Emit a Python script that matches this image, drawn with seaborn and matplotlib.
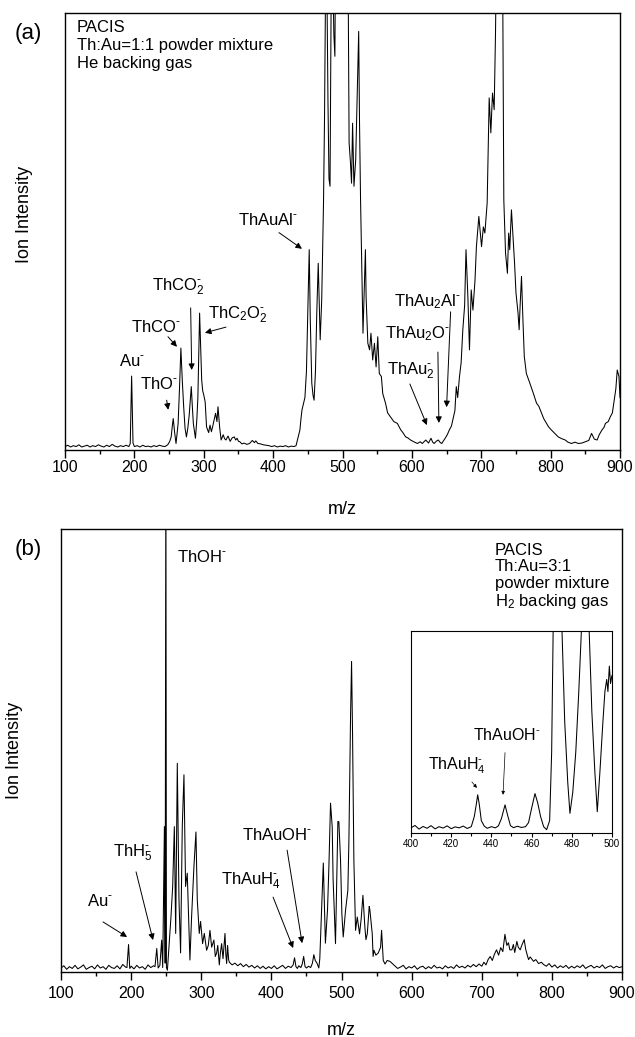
import pandas as pd
import numpy as np
import matplotlib as mpl
import matplotlib.pyplot as plt
import seaborn as sns

# ---------- panel (a): Th:Au=1:1, He backing gas (m/z, intensity in % of axis) ----------
a_low = [(100,0.8),(104,1.1),(108,0.7),(112,1.0),(116,0.8),(120,1.2),(124,0.7),(128,0.9),
         (132,1.1),(136,0.7),(140,1.0),(144,0.8),(148,1.2),(152,0.9),(156,0.7),(160,1.1),
         (164,0.8),(168,1.3),(172,0.9),(176,0.7),(180,1.0),(184,0.8),(188,1.1),(192,0.8),
         (194,1.5),(196,16.9),(198,1.6),(200,0.8),(204,1.0),(208,0.7),(212,1.1),(216,0.8),
         (220,0.9),(224,0.7),(228,1.0),(232,0.8),(236,1.1),(240,0.9),(244,0.8),(248,1.2),
         (251,2.0),(253,3.0),(255,6.0),(256,7.2),(258,4.0),(260,1.5),(263,6.0),(265,14),
         (267,23.3),(269,16),(271,10),(273,5),(275,3.0),(277,5),(279,8),(282,14.5),
         (283.5,10),(285,6),(288,2.7),(290,7),(291.5,12),(293,24),(294,31.3),(295.5,24),
         (297,16),(298.5,13.5),(300,12.6),(302,11),(304,5.3),(307,4),(309,5.7),(311,4.2),
         (313,5.5),(315,7),(317,8.4),(319,6.5),(320.5,9.9),(322,7),(323,5),(325,2.3),
         (328,3.5),(330,2.6),(332,2.3),(335,3.2),(338,2.0),(341,2.8),(344,3.0),(346,2.3),
         (348,2.7),(350,2.0),(352,1.9),(355,1.4),(358,1.6),(362,1.3),(366,1.5),(370,2.2),
         (373,1.7),(375,2.1),(378,1.5),(382,1.4),(386,1.2),(390,1.1),(394,1.0),(398,0.8),
         (402,1.0),(406,0.7),(410,0.9),(414,0.8),(418,1.0),(422,0.7),(426,0.9),(430,0.8)]
a_mid = [(433,1.0),(435,2.3),(437,3.5),(438.6,4.6),(440,7),(441.6,9.2),(443.5,10.5),
         (445.8,12),(448,18),(450,32),(452,45.8),(453.5,30),(455.7,15.3),(457.5,12.5),
         (459,11.4),(461,18),(463,32),(465,42.7),(467.8,25.2),(470,34.3),(472.6,56.5),
         (474,75),(475.5,105),(477,115),(479,80),(480.5,62),(482,60.3),(483,85),(484,115),
         (486,110),(487.5,95),(489,90),(490,115),(505,115),(508,110),(509.5,70.2),
         (511.5,65.6),(513,61),(514.5,74.7),(516.5,60.3),(519,66.4),(521,80),(523.3,95.7),
         (524.5,75),(526,57.2),(528,40),(529.5,26.7),(531,35),(533,45.8),(534,35),
         (536.5,24.4),(539,22.9),(541,26.7),(543.5,20.6),(546,24.4),(548.4,19),(550.8,25.9),
         (553,17.5),(556,16.8),(558,12.9),(562,10.7),(565,8.5),(570,7.4),(574,6.5),
         (579,6.1),(584,4.6),(587,4.0),(591,3.0),(594,2.8),(598,2.3),(604,1.8),(608,1.5),
         (612,1.9),(615,1.5),(620,2.3),(624,1.6),(627.5,2.7),(630,1.8),(632,1.5),(635,2.0),
         (638,2.3),(641,1.7),(643,1.5),(646,2.2),(648,2.7),(651,3.5),(654,4.6),(657,5.5)]
a_high = [(659,6.9),(662,9),(664,14.5),(666,12),(668.6,16.8),(671,20),(673.4,27.5),(676,33),
          (678,45.8),(680.7,35),(683,22.9),(685.5,36.6),(688,32),(691,38.9),(693,46.5),
          (696.5,53.4),(700.4,46.5),(703,51),(705.2,49.6),(708.5,56.5),(711.4,80.5),
          (713.8,72.5),(716.2,81.6),(718.6,77.8),(720.5,95),(722,115),(730.6,115),
          (732.5,57.2),(735,45),(737.7,40.4),(739.5,49.6),(741,45.8),(743.5,54.9),(746,48),
          (748,42.7),(750,36),(753,31.3),(754.6,27.5),(756,33),(758,39.7),(760,30),
          (762,21.4),(765,17.5),(770,15.3),(775,13),(779.7,10.7),(783,10),(787,8.4),
          (790,7.2),(794,6.1),(797,5.3),(801,4.6),(806,3.8),(811,3.0),(816,2.6),(821,2.3),
          (825,1.8),(830,1.5),(835,1.8),(840,1.5),(845,1.6),(850,1.9),(855,2.2),(859,3.8),
          (863,2.5),(867,2.3),(870,3.5),(874,4.6),(877,5.2),(879,6.1),(883,6.5),(886,7.6),
          (889,8.5),(891,10.7),(894,14),(896,18.3),(898.5,16.8),(900,12)]

# ---------- panel (b): Th:Au=3:1, H2 backing gas ----------
b_low = [(100,0.9),(104,1.4),(108,0.6),(112,1.2),(116,0.8),(120,1.5),(124,0.7),(128,1.1),
         (132,1.6),(136,0.6),(140,1.0),(144,1.3),(148,0.7),(152,1.6),(156,0.9),(160,1.2),
         (164,0.6),(168,1.5),(172,1.0),(176,0.8),(180,1.4),(184,0.7),(188,1.7),(192,1.1),
         (194,1.0),(196.3,6.2),(198,0.8),(200,1.3),(204,0.7),(208,1.5),(212,0.9),(216,1.2),
         (220,0.6),(224,1.6),(228,1.0),(232,1.4),(234,1.2),(236.5,5.3),(238.5,0.9),
         (241,1.5),(243.5,7.2),(245,1.0),(246,14),(247.4,32.8),(248.5,2.0),(249.5,120),
         (250.3,1.0),(251.7,0.4),(254.5,7.2),(256.8,12.5),(259.2,19.3),(261.6,32.8),
         (263.5,8.7),(265.8,47.1),(268.2,16.3),(270.5,4.3),(272.9,32.8),(275.3,44.5),
         (277.6,19.3),(280,22.3),(283.8,2.7),(286.2,12.5),(289.5,23.7),(292.4,31.6),
         (294.3,16.3),(297.1,8.7),(299,11.4),(301.9,6.4),(304.3,8.7),(307.6,4.9),(310,6.0),
         (312.4,9.4),(314.8,5.6),(318,7.2),(320,3.5),(321.9,4.3),(323.5,6.0),(325.7,1.6),
         (327,4.0),(329,6.4),(331,3.0),(333.8,8.7),(335,4.0),(336.2,1.9),(337.5,6.0),(339,2.8)]
b_mid = [(340,2.2),(344,1.6),(348,2.0),(352,1.4),(356,1.9),(360,1.2),(364,1.7),(368,1.1),
         (372,1.5),(376,0.9),(380,1.4),(384,0.8),(388,1.3),(392,0.7),(396,1.2),(400,0.8),
         (404,1.4),(408,0.7),(412,1.1),(416,1.5),(420,0.8),(424,1.3),(428,1.0),(431,1.6),
         (433,3.2),(435,1.2),(437,0.8),(439,1.4),(442,1.0),(444,1.8),(446,3.5),(448,1.2),
         (450,0.9),(453,1.3),(456,1.0),(458.5,2.0),(460.5,3.9),(462.5,2.6),(465,2.0),
         (467.6,0.9),(469,3.0),(471,11.8),(474,24.6),(477,6.5),(480,14),(482,23.9),
         (484.3,38.1),(486.7,32.8),(488,20.8),(491.4,6.4),(494.8,34),(496.2,33.9),
         (498.6,25.1),(500.5,13),(502.4,7.9),(505.7,13.9),(509,18.4),(510.5,29.6),
         (512.9,58.2),(514.3,70.1),(515.7,53.9),(517.6,25.1),(520,9.4),(522.4,12.4),
         (525.7,8.6),(528,12),(530.5,17.3),(533.3,10.1),(534.8,7.3),(536.7,8.6),
         (539.5,14.8),(540.5,13.9),(543.8,8.6),(545,3.5),(546.2,4.9),(549,3.8),(551,4.1),
         (552.4,4.3),(555.7,5.6),(557.1,9.4),(559.5,2.6),(562,1.8),(565.2,2.6),(569,2.4),
         (572.4,1.9)]
b_high = [(576,1.4),(580,0.8),(584,1.1),(588,1.5),(592,0.7),(596,1.2),(600,0.9),(604,1.4),
          (608,0.6),(612,1.1),(616,1.3),(620,0.7),(624,1.2),(628,0.8),(632,1.5),(636,0.9),
          (640,1.1),(644,0.7),(648,1.4),(652,0.9),(656,1.2),(660,0.8),(664,1.6),(668,1.0),
          (672,1.3),(676,0.9),(680,1.5),(684,1.1),(688,1.7),(692,1.2),(696,1.8),(700,1.3),
          (703,2.2),(706,1.6),(709,2.8),(712,3.5),(715,2.6),(718,4.0),(721,5.0),(724,3.8),
          (727,5.5),(730,4.6),(733,8.5),(735.7,6.0),(738,6.6),(740,5.0),(742.9,5.0),
          (745,6.2),(747,4.4),(750,6.9),(752,5.6),(754.8,5.0),(757,6.0),(760.5,7.3),
          (762.5,5.2),(764.5,4.0),(766.7,2.8),(769,3.4),(773.8,2.4),(777,2.8),(781,1.9),
          (785,2.2),(788,1.7),(792,1.3),(796,1.9),(800,1.1),(804,1.6),(808,0.9),(812,1.4),
          (816,1.0),(820,1.5),(824,0.8),(828,1.3),(832,0.9),(836,1.4),(840,1.0),(844,1.6),
          (848,0.8),(852,1.2),(856,1.5),(860,0.9),(864,1.3),(868,1.0),(872,1.6),(876,0.8),
          (880,1.2),(884,1.4),(888,0.9),(892,1.3),(896,1.0),(900,1.2)]

# inset of (b), m/z 400-500 (intensity in % of inset height)
inset_b = [(400,2.4),(402,3.6),(404,1.8),(406,3.1),(408,2.2),(410,3.5),(412,1.9),(414,3.0),
           (416,2.3),(418,3.4),(420,2.0),(422,2.9),(424,2.4),(426,3.3),(428,2.1),(430,3.0),
           (431.5,8),(432.5,14),(433.2,18.8),(434,14),(435,6),(436.5,3.2),(438,2.2),(440,3.0),
           (442,2.4),(443.5,3.4),(445,7),(446.8,13.8),(448,9),(449.5,3.5),(451,2.5),(453,3.2),
           (455,2.6),(457,3.0),(458.5,5),(460,12),(461.7,19.4),(463,15),(464.5,8),(466,3),
           (467.5,1.5),(469,6),(470,40),(470.8,105),(475,105),(476.5,55),(478,25),(479.1,9.6),
           (480.5,20),(482,40),(483.5,70),(485,105),(488.5,105),(490,60),(491.5,30),
           (492.7,10.4),(494,30),(495.5,55),(496.5,70),(497.4,76),(498,70),(498.7,82.6),
           (499.3,74),(500,78)]

df_a = pd.DataFrame(a_low + a_mid + a_high, columns=["mz", "ion"])
df_b = pd.DataFrame(b_low + b_mid + b_high, columns=["mz", "ion"])
df_in = pd.DataFrame(inset_b, columns=["mz", "ion"])

sns.set_style("white", {"text.color": "black", "axes.labelcolor": "black",
                        "xtick.color": "black", "axes.edgecolor": "black"})
plt.rcParams["font.family"] = ["Liberation Sans", "DejaVu Sans"]
plt.rcParams["mathtext.fontset"] = "custom"
plt.rcParams["mathtext.rm"] = "Liberation Sans"
plt.rcParams["mathtext.it"] = "Liberation Sans:italic"
plt.rcParams["mathtext.default"] = "regular"

fig = plt.figure(figsize=(6.35, 10.37), dpi=100)
ax_a = fig.add_axes([0.1024, 0.566, 0.874, 0.4219])
ax_b = fig.add_axes([0.0961, 0.0627, 0.8835, 0.4272])
ax_in = fig.add_axes([0.6472, 0.197, 0.3165, 0.1945])

for ax, df in [(ax_a, df_a), (ax_b, df_b), (ax_in, df_in)]:
    sns.lineplot(data=df, x="mz", y="ion", ax=ax, color="black", linewidth=0.75,
                 estimator=None, sort=False, legend=False)
    ax.set_ylim(0, 100)
    ax.set_yticks([])
    ax.set_ylabel("")
    ax.set_xlabel("")
    for s in ax.spines.values():
        s.set_visible(True)
        s.set_color("black")
        s.set_linewidth(1.0)

for ax in [ax_a, ax_b]:
    ax.set_xlim(100, 900)
    ax.set_xticks(range(100, 901, 100))
    ax.xaxis.set_minor_locator(mpl.ticker.MultipleLocator(50))
    ax.set_xlabel("m/z", fontsize=13)
    ax.set_ylabel("Ion Intensity", fontsize=13)

ax_a.tick_params(axis="x", which="major", direction="out", length=5.5, width=1, pad=1.5, labelsize=11.5, bottom=True)
ax_a.tick_params(axis="x", which="minor", direction="out", length=3, width=1, bottom=True)
ax_b.tick_params(axis="x", which="major", direction="out", length=5.5, width=1, pad=4.5, labelsize=11.5, bottom=True)
ax_b.tick_params(axis="x", which="minor", direction="out", length=3, width=1, bottom=True)
ax_a.xaxis.set_label_coords(0.5, -0.116)
ax_b.xaxis.set_label_coords(0.5, -0.112)
ax_a.yaxis.set_label_coords(-0.058, 0.538)
ax_b.yaxis.set_label_coords(-0.068, 0.5)

ax_in.set_xlim(400, 500)
ax_in.set_xticks(range(400, 501, 20))
ax_in.xaxis.set_minor_locator(mpl.ticker.MultipleLocator(10))
ax_in.tick_params(axis="x", which="major", direction="out", length=3, width=0.8, pad=1.5, labelsize=7, bottom=True)
ax_in.tick_params(axis="x", which="minor", direction="out", length=2, width=0.8, bottom=True)
for s in ax_in.spines.values():
    s.set_linewidth(0.8)

fig.text(0.044, 0.968, "(a)", fontsize=16, ha="center", va="center")
fig.text(0.044, 0.470, "(b)", fontsize=16, ha="center", va="center")

ax_a.text(117.3, 98.3, "PACIS\nTh:Au=1:1 powder mixture\nHe backing gas",
          fontsize=12, ha="left", va="top", linespacing=1.25)
ax_b.text(719, 96.8, "PACIS\nTh:Au=3:1\npowder mixture\nH$_2$ backing gas",
          fontsize=12, ha="left", va="top", linespacing=1.1)

arrow = dict(arrowstyle="-|>", color="black", lw=0.7, mutation_scale=9, shrinkA=0, shrinkB=0)
M = r"\text{-}"  # short superscript dash as in the original figure

# labels in panel (a): text, text position, arrow tail, arrow head
labels_a = [
    ("Au$^{%s}$" % M, (196.5, 20.4), None, None),
    ("ThO$^{%s}$" % M, (235.4, 15.1), (246.5, 11.4), (248.8, 9.2)),
    ("ThCO$^{%s}$" % M, (231, 28.1), (248.4, 25.9), (261.4, 23.6)),
    ("ThCO$_2^{%s}$" % M, (262.8, 37.3), (281.1, 32.5), (282.6, 18.3)),
    ("ThC$_2$O$_2^{%s}$" % M, (349.3, 30.9), (332, 28.1), (301.7, 26.8)),
    ("ThAuAl$^{%s}$" % M, (392.5, 52.6), (408.4, 49.7), (441.5, 46.0)),
    ("ThAu$_2$Al$^{%s}$" % M, (623, 33.9), (655.8, 31.6), (650, 9.8)),
    ("ThAu$_2$O$^{%s}$" % M, (608.6, 26.5), (637.5, 22.4), (638.9, 6.2)),
    ("ThAu$_2^{%s}$" % M, (598.6, 18.1), (597.1, 15.1), (621.6, 5.7)),
]
labels_b = [
    ("ThOH$^{%s}$" % M, (301.1, 93.7), None, None),
    ("ThH$_5^{%s}$" % M, (202.7, 26.9), (207, 22.6), (231.2, 7.2)),
    ("Au$^{%s}$" % M, (155.6, 16.0), (159.9, 11.3), (194.2, 7.9)),
    ("ThAuOH$^{%s}$" % M, (408.1, 30.9), (422.4, 27.5), (443.8, 6.5)),
    ("ThAuH$_4^{%s}$" % M, (371, 20.5), (402.4, 16.9), (431, 5.4)),
]
labels_in = [
    ("ThAuOH$^{%s}$" % M, (447.8, 48.6), (446.8, 39.7), (445.8, 18.8)),
    ("ThAuH$_4^{%s}$" % M, (422.9, 33.2), (430.3, 25.2), (432.8, 22.2)),
]

for ax, labels, size in [(ax_a, labels_a, 12), (ax_b, labels_b, 12), (ax_in, labels_in, 11.5)]:
    for txt, pos, tail, head in labels:
        ax.text(pos[0], pos[1], txt, fontsize=size, ha="center", va="center")
        if head is not None:
            props = dict(arrow)
            if ax is ax_in:
                props.update(lw=0.5, mutation_scale=5)
            ax.annotate("", xy=head, xytext=tail, arrowprops=props)

fig.savefig("out.png", dpi=100)
